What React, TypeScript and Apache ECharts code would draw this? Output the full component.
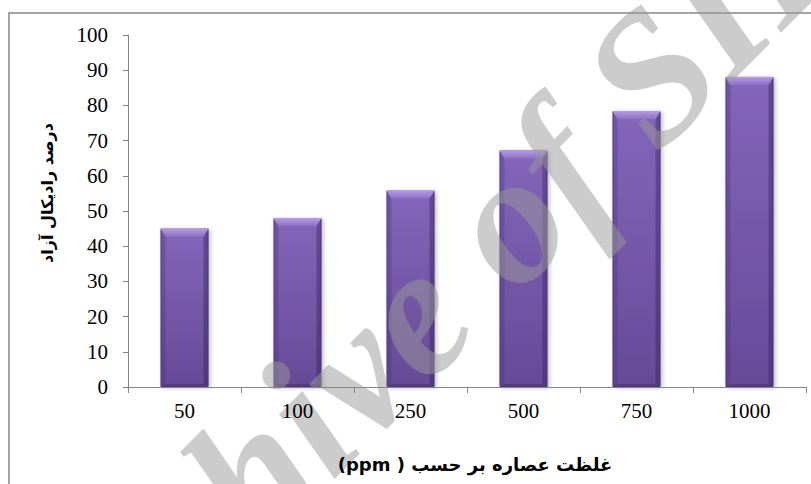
import React, { useEffect, useRef } from "react";
import * as echarts from "echarts";

const categories = ["50", "100", "250", "500", "750", "1000"];
const values = [45, 48, 55.8, 67.2, 78.4, 88.1];
const yMin = 0;
const yMax = 100;
const yInterval = 10;
const xTitle = "\u202Bغلظت عصاره بر حسب ( ppm)\u202C";
const yTitle = "درصد رادیکال آزاد";
const watermark = "Archive of SID";

export default function App() {
  const ref = useRef<HTMLDivElement>(null);
  useEffect(() => {
    if (!ref.current) return;
    const chart = echarts.init(ref.current, null, { renderer: "svg" });
    const axisColor = "#868686";
    const serif = "Liberation Serif, Times New Roman, serif";
    const arabic = "DejaVu Sans, sans-serif";
    chart.setOption({
      animation: false,
      backgroundColor: "#ffffff",
      grid: { left: 128, right: 5, top: 35, bottom: 97, containLabel: false },
      xAxis: {
        type: "category",
        data: categories,
        z: 10,
        boundaryGap: true,
        axisLine: { lineStyle: { color: axisColor, width: 1 } },
        axisTick: { show: true, inside: false, length: 6, alignWithLabel: false, lineStyle: { color: axisColor } },
        axisLabel: { color: "#000", fontFamily: serif, fontSize: 21, margin: 13 },
        splitLine: { show: false },
      },
      yAxis: {
        type: "value",
        min: yMin,
        max: yMax,
        interval: yInterval,
        z: 10,
        axisLine: { show: true, lineStyle: { color: axisColor, width: 1 } },
        axisTick: { show: true, length: 5, lineStyle: { color: axisColor } },
        axisLabel: { color: "#000", fontFamily: serif, fontSize: 21, margin: 20 },
        splitLine: { show: false },
      },
      series: [
        {
          type: "bar",
          data: values,
          barWidth: "42.5%",
          z: 2,
          itemStyle: {
            color: new echarts.graphic.LinearGradient(0, 0, 0, 1, [
              { offset: 0, color: "#8466BA" },
              { offset: 1, color: "#664A97" },
            ]),
            borderColor: "#5E4590",
            borderWidth: 1,
            shadowColor: "rgba(0,0,0,0.25)",
            shadowBlur: 4,
            shadowOffsetX: 2,
            shadowOffsetY: 1,
          },
        },
        {
          type: "custom",
          z: 3,
          silent: true,
          data: values.map((v, i) => [i, v]),
          renderItem: (params: any, api: any) => {
            const i = api.value(0);
            const v = api.value(1);
            const top = api.coord([i, v]);
            const base = api.coord([i, 0]);
            const w = api.size([1, 0])[0] * 0.425;
            const x0 = top[0] - w / 2;
            const x1 = top[0] + w / 2;
            const yt = top[1];
            const yb = base[1];
            const b = 8;
            const s = 5;
            return {
              type: "group",
              children: [
                {
                  type: "polygon",
                  shape: { points: [[x0, yt], [x0 + s, yt + b], [x0 + s, yb - 3], [x0, yb]] },
                  style: { fill: "rgba(70,45,120,0.3)" },
                },
                {
                  type: "polygon",
                  shape: { points: [[x1, yt], [x1, yb], [x1 - s, yb - 3], [x1 - s, yt + b]] },
                  style: { fill: "rgba(50,30,95,0.4)" },
                },
                {
                  type: "polygon",
                  shape: { points: [[x0, yb], [x1, yb], [x1 - s, yb - 3], [x0 + s, yb - 3]] },
                  style: { fill: "rgba(50,30,95,0.35)" },
                },
                {
                  type: "polygon",
                  shape: { points: [[x0, yt], [x1, yt], [x1 - s, yt + b], [x0 + s, yt + b]] },
                  style: {
                    fill: new echarts.graphic.LinearGradient(0, 0, 0, 1, [
                      { offset: 0, color: "#B59DE2" },
                      { offset: 1, color: "#8D70C6" },
                    ]),
                  },
                },
              ],
            };
          },
        },
      ],
      graphic: [
        {
          type: "rect",
          z: 0,
          silent: true,
          shape: { x: 9, y: 13, width: 900, height: 600 },
          style: { fill: "none", stroke: "#868686", lineWidth: 1.5 },
        },
        {
          type: "text",
          z: 5,
          silent: true,
          x: 425,
          y: 300,
          rotation: Math.PI / 4,
          style: {
            text: watermark,
            fontFamily: serif,
            fontStyle: "italic",
            fontWeight: "bold",
            fontSize: 185,
            fill: "#9a9a9a",
            opacity: 0.5,
            textAlign: "center",
            textVerticalAlign: "middle",
          },
        },
        {
          type: "text",
          z: 10,
          silent: true,
          x: 47,
          y: 193,
          rotation: Math.PI / 2,
          style: {
            text: yTitle,
            fontFamily: arabic,
            fontWeight: "bold",
            fontSize: 16,
            fill: "#000",
            textAlign: "center",
            textVerticalAlign: "middle",
          },
        },
        {
          type: "text",
          z: 10,
          silent: true,
          x: 475,
          y: 464,
          style: {
            text: xTitle,
            fontFamily: arabic,
            fontWeight: "bold",
            fontSize: 18,
            fill: "#000",
            textAlign: "center",
            textVerticalAlign: "middle",
          },
        },
      ],
    });
    return () => chart.dispose();
  }, []);
  return (
    <div
      ref={ref}
      style={{ position: "absolute", left: 0, top: 0, width: 811, height: 484 }}
    />
  );
}
